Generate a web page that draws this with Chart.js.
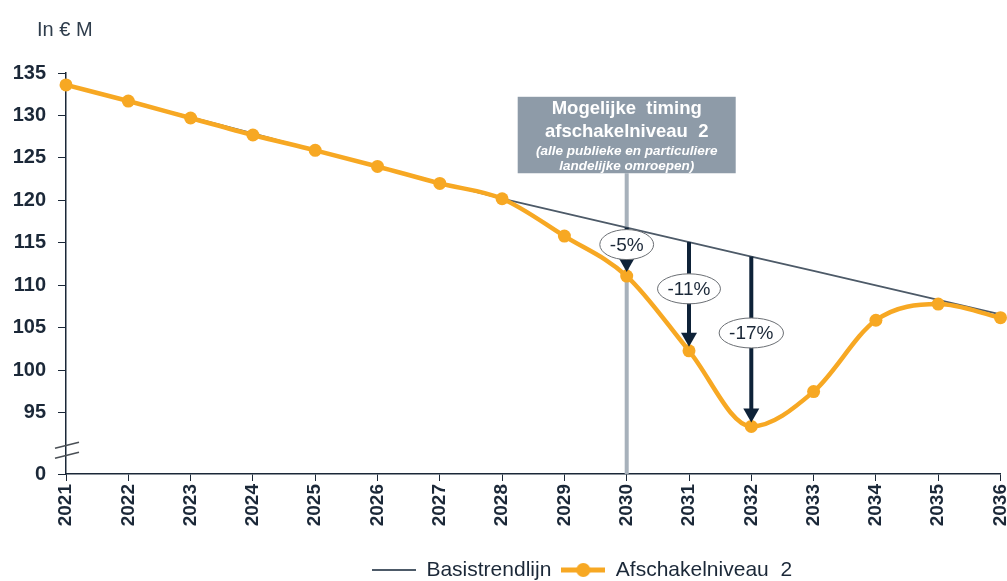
<!DOCTYPE html>
<html>
<head>
<meta charset="utf-8">
<script src="https://cdn.jsdelivr.net/npm/chart.js@4.4.1/dist/chart.umd.min.js"></script>
<style>
  html, body { margin: 0; padding: 0; background: #fff; }
  #wrap { width: 1007px; height: 581px; }
</style>
</head>
<body>
<div id="wrap"><canvas id="chart"></canvas></div>
<script>
// data
const years = ['2021', '2022', '2023', '2024', '2025', '2026', '2027', '2028',
               '2029', '2030', '2031', '2032', '2033', '2034', '2035', '2036'];
const basistrend = [133.6, 131.7, 129.8, 127.9, 125.9, 124.0, 122.1, 120.2,
                    118.5, 116.8, 115.1, 113.4, 111.7, 110.0, 108.3, 106.6];
const afschakel = [133.6, 131.7, 129.7, 127.7, 125.9, 124.0, 122.0, 120.2,
                   115.8, 111.1, 102.3, 93.4, 97.5, 105.9, 107.8, 106.2];
const yTicks = [95, 100, 105, 110, 115, 120, 125, 130, 135];
const arrowYears = ['2030', '2031', '2032'];
const arrowLabels = ['-5%', '-11%', '-17%'];
const timingYear = '2030';
const boxTitle = ['Mogelijke  timing', 'afschakelniveau  2'];
const boxNote = ['(alle publieke en particuliere', 'landelijke omroepen)'];
const unitLabel = 'In € M';

const FONT = '"Liberation Sans", Arial, sans-serif';
const INK = '#1B2838';
const ORANGE = '#F7A823';
const TREND = '#4D5A68';
const Y_MIN = 87.8; // broken axis: bottom of the axis is shown as 0

Chart.defaults.font.family = FONT;

function legendIcon(color, lw, dot) {
  const c = document.createElement('canvas');
  c.width = 44; c.height = 16;
  const g = c.getContext('2d');
  g.strokeStyle = color; g.lineWidth = lw;
  g.beginPath(); g.moveTo(0, 8); g.lineTo(44, 8); g.stroke();
  if (dot) {
    g.fillStyle = color;
    g.beginPath(); g.arc(22, 8, 7, 0, Math.PI * 2); g.fill();
  }
  return c;
}
const icons = [legendIcon(TREND, 2, false), legendIcon(ORANGE, 5, true)];

const annotations = {
  id: 'annotations',
  afterLayout(chart) {
    // put the legend where the reference has it
    const lg = chart.legend;
    const dx = 582 - (lg.left + lg.right) / 2;
    const dy = 570 - (lg.top + 20.5);
    lg.left += dx; lg.right += dx; lg.top += dy; lg.bottom += dy;
  },
  beforeDatasetsDraw(chart) {
    const { ctx, chartArea, scales: { x, y } } = chart;
    const cx = x.getPixelForValue(years.indexOf(timingYear));
    const top = y.getPixelForValue(132.2);
    const bottom = y.getPixelForValue(123.2);
    ctx.save();
    ctx.strokeStyle = '#A7B1BB';
    ctx.lineWidth = 4;
    ctx.beginPath(); ctx.moveTo(cx, bottom); ctx.lineTo(cx, chartArea.bottom); ctx.stroke();
    ctx.fillStyle = '#8E9BA8';
    ctx.fillRect(cx - 109, top, 218, bottom - top);
    ctx.fillStyle = '#fff';
    ctx.textAlign = 'center';
    ctx.textBaseline = 'middle';
    ctx.font = 'bold 18.5px ' + FONT;
    ctx.fillText(boxTitle[0], cx, top + 12);
    ctx.fillText(boxTitle[1], cx, top + 35);
    ctx.font = 'italic bold 13.5px ' + FONT;
    ctx.fillText(boxNote[0], cx, top + 54);
    ctx.fillText(boxNote[1], cx, top + 69);
    ctx.restore();
  },
  afterDatasetsDraw(chart) {
    const { ctx, chartArea, scales: { x, y } } = chart;
    ctx.save();
    // arrows with percentage labels
    const fracs = [0.35, 0.43, 0.45];
    arrowYears.forEach((yr, k) => {
      const i = years.indexOf(yr);
      const xi = x.getPixelForValue(i);
      const yTop = y.getPixelForValue(basistrend[i]);
      const yPt = y.getPixelForValue(afschakel[i]);
      const tip = yPt - 4;
      ctx.strokeStyle = '#0E2238';
      ctx.fillStyle = '#0E2238';
      ctx.lineWidth = 4;
      ctx.beginPath(); ctx.moveTo(xi, yTop); ctx.lineTo(xi, tip - 12); ctx.stroke();
      ctx.beginPath();
      ctx.moveTo(xi - 8, tip - 14); ctx.lineTo(xi + 8, tip - 14); ctx.lineTo(xi, tip);
      ctx.closePath(); ctx.fill();
      const ly = yTop + fracs[k] * (yPt - yTop);
      ctx.font = '19px ' + FONT;
      const tw = ctx.measureText(arrowLabels[k]).width;
      ctx.beginPath();
      ctx.ellipse(xi, ly, tw / 2 + 10, 15, 0, 0, Math.PI * 2);
      ctx.fillStyle = '#fff'; ctx.fill();
      ctx.strokeStyle = '#6A6E73'; ctx.lineWidth = 1; ctx.stroke();
      ctx.fillStyle = INK;
      ctx.textAlign = 'center'; ctx.textBaseline = 'middle';
      ctx.fillText(arrowLabels[k], xi, ly + 1);
    });
    // axis break marks
    const bx = chartArea.left;
    const by = y.getPixelForValue(90.6);
    ctx.strokeStyle = '#4A4F55'; ctx.lineWidth = 1.5;
    [-5, 5].forEach(off => {
      ctx.beginPath();
      ctx.moveTo(bx - 11, by + off + 3); ctx.lineTo(bx + 13, by + off - 3);
      ctx.stroke();
    });
    // unit label
    ctx.fillStyle = '#2F3D4C';
    ctx.font = '20px ' + FONT;
    ctx.textAlign = 'left'; ctx.textBaseline = 'middle';
    ctx.fillText(unitLabel, 37, 30);
    ctx.restore();
  }
};

new Chart(document.getElementById('chart'), {
  type: 'line',
  data: {
    labels: years,
    datasets: [{
      label: 'Basistrendlijn',
      data: basistrend,
      borderColor: TREND,
      borderWidth: 1.8,
      pointRadius: 0,
      tension: 0,
      order: 1
    }, {
      label: 'Afschakelniveau  2',
      data: afschakel,
      borderColor: ORANGE,
      backgroundColor: ORANGE,
      borderWidth: 4.5,
      pointRadius: 6.5,
      pointBorderWidth: 0,
      pointBackgroundColor: ORANGE,
      cubicInterpolationMode: 'monotone',
      clip: false,
      order: 0
    }]
  },
  options: {
    responsive: true,
    maintainAspectRatio: false,
    animation: false,
    layout: { padding: { top: 73, right: 5, left: 0, bottom: 0 } },
    scales: {
      x: {
        offset: false,
        border: { display: true, color: INK, width: 1.5 },
        grid: { drawOnChartArea: false, drawTicks: true, tickLength: 7, color: INK },
        ticks: {
          autoSkip: false, minRotation: 90, maxRotation: 90, padding: 3,
          color: INK, font: { size: 19, weight: 'bold' }
        },
        afterFit(scale) { scale.height = 66; scale.paddingRight = 0; scale.paddingLeft = 0; }
      },
      y: {
        min: Y_MIN,
        max: 135,
        border: { display: true, color: INK, width: 1.5 },
        grid: { drawOnChartArea: false, drawTicks: true, tickLength: 8, color: INK },
        ticks: {
          padding: 12, color: INK, font: { size: 20, weight: 'bold' },
          callback: v => (v === Y_MIN ? '0' : v)
        },
        afterBuildTicks(scale) {
          scale.ticks = [Y_MIN].concat(yTicks).map(v => ({ value: v }));
        },
        afterFit(scale) { scale.width = 66; }
      }
    },
    plugins: {
      tooltip: { enabled: false },
      legend: {
        position: 'bottom',
        labels: {
          usePointStyle: true,
          pointStyleWidth: 44,
          padding: 10,
          color: INK,
          font: { size: 21 },
          sort: (a, b) => a.datasetIndex - b.datasetIndex,
          generateLabels(chart) {
            const items = Chart.defaults.plugins.legend.labels.generateLabels(chart);
            items.forEach(it => { it.pointStyle = icons[it.datasetIndex]; });
            return items;
          }
        }
      }
    }
  },
  plugins: [annotations]
});
</script>
</body>
</html>
